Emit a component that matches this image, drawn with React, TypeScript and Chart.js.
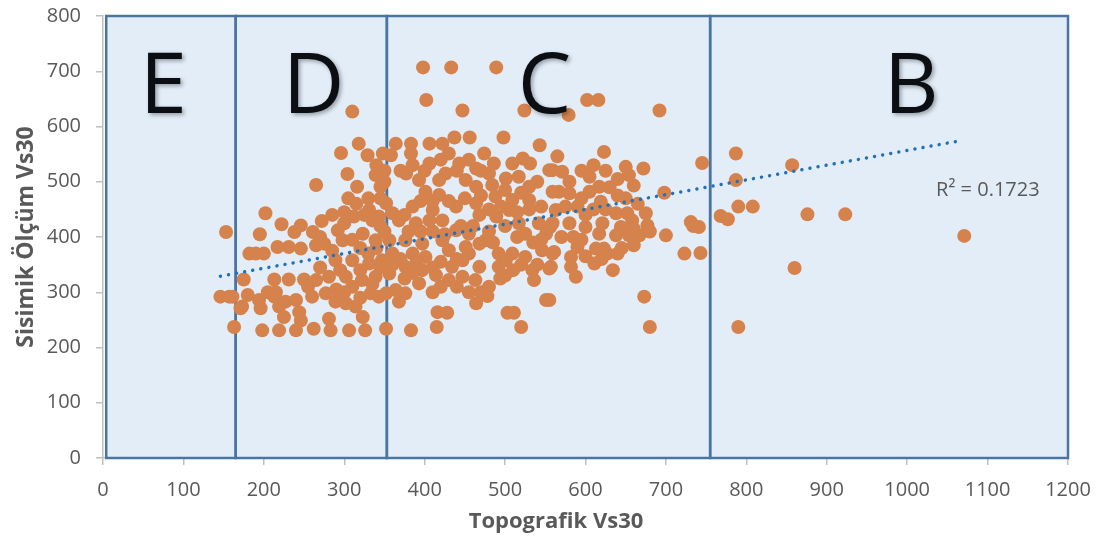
import React, { useEffect, useRef } from 'react';
import { Chart, registerables } from 'chart.js';

Chart.register(...registerables);

const FONT = "'Open Sans', 'DejaVu Sans', sans-serif";
const TEXT_GRAY = '#595959';

const xTickValues = [0, 100, 200, 300, 400, 500, 600, 700, 800, 900, 1000, 1100, 1200];
const yTickValues = [0, 100, 200, 300, 400, 500, 600, 700, 800];

const zoneNames = ['E', 'D', 'C', 'B'];
const zoneEdges = [4, 165, 353, 755, 1200];
const zoneLetterX = [75, 262, 549, 1005];
const zoneLetterBaseY = 624;

const trendX = [146, 1069];
const trendY = [329, 575];
const r2Text = 'R² = 0.1723';
const r2X = 1036;
const r2Y = 474;

const xAxisTitle = 'Topografik Vs30';
const yAxisTitle = 'Sisimik Ölçüm Vs30';

const zoneEPoints = [
  [153, 409], [146, 292], [161, 292], [157, 292], [163, 237],
];

const zoneDPoints = [
  [171, 271], [173, 274], [175, 323], [180, 295], [182, 370], [190, 370], [194, 286], [195, 405],
  [196, 271], [198, 231], [200, 370], [202, 443], [213, 292], [213, 323], [217, 382], [219, 274],
  [219, 231], [222, 423], [225, 255], [227, 283], [231, 382], [231, 323], [238, 409], [240, 286],
  [240, 231], [244, 264], [246, 421], [246, 379], [246, 249], [250, 323], [260, 292], [261, 409],
  [262, 234], [265, 494], [265, 385], [265, 322], [272, 429], [275, 388], [277, 298], [281, 328],
  [281, 252], [283, 231], [289, 358], [289, 283], [292, 412], [296, 552], [298, 394], [300, 425],
  [302, 328], [302, 280], [304, 514], [306, 231], [310, 627], [310, 358], [312, 437], [314, 274],
  [316, 491], [318, 569], [322, 322], [323, 406], [323, 255], [326, 231], [329, 548], [331, 449],
  [331, 352], [333, 298], [339, 512], [339, 394], [339, 328], [343, 437], [343, 292], [345, 491],
  [347, 358], [348, 551], [352, 234], [352, 461], [352, 298],
  [300, 300], [310, 310], [320, 340], [330, 370], [340, 380], [350, 410], [345, 420], [335, 430],
  [325, 440], [315, 460], [305, 470], [330, 470], [345, 470], [350, 500], [340, 530], [350, 520],
  [300, 445], [285, 440], [270, 400], [285, 375], [270, 345], [215, 300], [205, 300], [255, 310],
  [290, 305], [320, 290], [335, 315], [345, 345], [320, 380], [310, 395], [295, 340],
];

const zoneCPoints = [
  [698, 480], [731, 427], [734, 420], [723, 370], [700, 403], [673, 292], [680, 237], [623, 554],
  [650, 527], [672, 524], [660, 493], [654, 512], [565, 546], [571, 518], [559, 521], [567, 482],
  [580, 479], [605, 509], [617, 491], [605, 482], [619, 464], [563, 449], [580, 425], [556, 418],
  [600, 418], [638, 443], [652, 443], [675, 443], [677, 421], [658, 430], [644, 418], [621, 425],
  [617, 406], [638, 403], [654, 403], [667, 403], [623, 379], [613, 379], [627, 370], [611, 352],
  [634, 340], [590, 382], [582, 364], [582, 346], [588, 328], [561, 373], [557, 346], [555, 286],
  [745, 534], [741, 418], [743, 371],
  [398, 707], [433, 707], [489, 707], [402, 648], [447, 629], [524, 629], [579, 621], [602, 648],
  [616, 648], [692, 629], [543, 566], [498, 580], [456, 580], [437, 580],
  [383, 231], [415, 237], [416, 264], [428, 263], [464, 280], [478, 293], [503, 263], [511, 263],
  [520, 237], [551, 286], [364, 569], [383, 569], [406, 569], [422, 569], [474, 551], [486, 533],
  [509, 533], [522, 542], [531, 533], [555, 521], [358, 548], [383, 551], [377, 515], [406, 533],
  [430, 551], [443, 533], [464, 524], [426, 515], [393, 503], [418, 503], [451, 503], [464, 491],
  [401, 482], [418, 476], [484, 494], [501, 506], [517, 509], [530, 491], [559, 482], [488, 473],
  [509, 467], [530, 467], [360, 443], [385, 455], [410, 449], [439, 455], [464, 461], [468, 440],
  [489, 437], [505, 449], [517, 425], [542, 425], [559, 425], [525, 406], [551, 406], [368, 430],
  [389, 425], [406, 430], [422, 430], [439, 412], [455, 406], [476, 394], [356, 394], [376, 394],
  [397, 388], [422, 394], [360, 370], [385, 370], [401, 364], [430, 376], [451, 382], [468, 388],
  [492, 370], [509, 370], [525, 364], [546, 376], [559, 370], [555, 343], [492, 346], [501, 358],
  [534, 340], [536, 322], [494, 325], [468, 346], [463, 322], [447, 358], [434, 346], [414, 331],
  [430, 322], [447, 328], [393, 316], [397, 340], [376, 346], [356, 334], [364, 304], [376, 298],
  [368, 283],
  [370, 520], [385, 530], [400, 520], [420, 540], [440, 520], [455, 540], [470, 520], [480, 515],
  [395, 465], [410, 465], [430, 465], [450, 470], [470, 475], [500, 485], [520, 480], [540, 500],
  [545, 455], [530, 450], [515, 445], [495, 455], [480, 450], [375, 440], [380, 410], [395, 410],
  [410, 410], [425, 405], [445, 420], [460, 420], [480, 410], [500, 420], [515, 400], [535, 390],
  [545, 395], [485, 390], [455, 370], [440, 360], [420, 355], [410, 345], [390, 355], [370, 360],
  [360, 350], [375, 325], [385, 335], [410, 300], [420, 310], [440, 310], [455, 300], [470, 300],
  [480, 310], [500, 330], [510, 340], [520, 350], [540, 350], [570, 400], [585, 400], [595, 395],
  [600, 440], [610, 450], [625, 450], [590, 455], [575, 455], [595, 470], [580, 500], [595, 520],
  [610, 530], [625, 520], [640, 505], [650, 470], [665, 460], [640, 475], [630, 490], [660, 415],
  [680, 410], [660, 385], [645, 380], [600, 365], [620, 360], [640, 370],
];

const zoneBPoints = [
  [787, 551], [787, 503], [857, 530], [790, 455], [808, 455], [768, 438], [777, 432], [876, 441],
  [923, 441], [1071, 402], [860, 344], [790, 237],
];

const zonePlugin = {
  id: 'zonesAndText',
  beforeDatasetsDraw(chart: any) {
    const { ctx } = chart;
    const xs = chart.scales.x;
    const ys = chart.scales.y;
    const top = ys.getPixelForValue(800);
    const bottom = ys.getPixelForValue(0);
    ctx.save();
    ctx.fillStyle = '#E3EDF8';
    for (let i = 0; i < zoneNames.length; i++) {
      const l = xs.getPixelForValue(zoneEdges[i]);
      const r = xs.getPixelForValue(zoneEdges[i + 1]);
      ctx.fillRect(l, top, r - l, bottom - top);
    }
    ctx.strokeStyle = '#4A74A2';
    ctx.lineWidth = 2.5;
    for (let i = 0; i < zoneNames.length; i++) {
      const l = xs.getPixelForValue(zoneEdges[i]);
      const r = xs.getPixelForValue(zoneEdges[i + 1]);
      ctx.strokeRect(l, top, r - l, bottom - top);
    }
    ctx.restore();
  },
  afterDatasetsDraw(chart: any) {
    const { ctx } = chart;
    const xs = chart.scales.x;
    const ys = chart.scales.y;
    ctx.save();
    ctx.font = `85px ${FONT}`;
    ctx.textAlign = 'center';
    ctx.textBaseline = 'alphabetic';
    ctx.fillStyle = '#0B0F14';
    ctx.shadowColor = 'rgba(0,0,0,0.35)';
    ctx.shadowBlur = 4;
    ctx.shadowOffsetX = 2;
    ctx.shadowOffsetY = 2;
    for (let i = 0; i < zoneNames.length; i++) {
      ctx.fillText(zoneNames[i], xs.getPixelForValue(zoneLetterX[i]), ys.getPixelForValue(zoneLetterBaseY));
    }
    ctx.restore();

    ctx.save();
    ctx.font = `20px ${FONT}`;
    ctx.fillStyle = TEXT_GRAY;
    ctx.textAlign = 'left';
    ctx.textBaseline = 'alphabetic';
    ctx.fillText(r2Text, xs.getPixelForValue(r2X), ys.getPixelForValue(r2Y));
    ctx.restore();
  },
  afterDraw(chart: any) {
    const { ctx, chartArea } = chart;
    ctx.save();
    ctx.fillStyle = TEXT_GRAY;
    ctx.font = `bold 22px ${FONT}`;
    ctx.textAlign = 'center';
    ctx.textBaseline = 'alphabetic';
    ctx.fillText(xAxisTitle, 556, 528);
    ctx.translate(33, (chartArea.top + chartArea.bottom) / 2);
    ctx.rotate(-Math.PI / 2);
    ctx.font = `bold 23px ${FONT}`;
    ctx.fillText(yAxisTitle, 0, 0);
    ctx.restore();
  },
};

const zeroPadding = (s: any) => {
  s.paddingTop = 0;
  s.paddingBottom = 0;
  s.paddingLeft = 0;
  s.paddingRight = 0;
};

export default function App() {
  const canvasRef = useRef<HTMLCanvasElement | null>(null);

  useEffect(() => {
    if (!canvasRef.current) return;
    const allPoints = [...zoneEPoints, ...zoneDPoints, ...zoneCPoints, ...zoneBPoints];
    const chart = new Chart(canvasRef.current, {
      type: 'scatter',
      data: {
        datasets: [
          {
            type: 'line',
            data: trendX.map((x, i) => ({ x, y: trendY[i] })),
            borderColor: '#2172BA',
            borderWidth: 3.5,
            borderDash: [0.01, 8.2],
            borderCapStyle: 'round',
            pointRadius: 0,
            fill: false,
            showLine: true,
            order: 1,
          } as any,
          {
            type: 'scatter',
            data: allPoints.map(([x, y]) => ({ x, y })),
            backgroundColor: '#D5824C',
            borderWidth: 0,
            pointRadius: 7,
            pointHoverRadius: 7,
            order: 2,
          } as any,
        ],
      },
      options: {
        animation: false,
        responsive: true,
        maintainAspectRatio: false,
        layout: { padding: { left: 0, right: 31, top: 16, bottom: 0 } },
        plugins: { legend: { display: false }, tooltip: { enabled: false } },
        scales: {
          x: {
            type: 'linear',
            min: 0,
            max: 1200,
            afterBuildTicks: (s: any) => { s.ticks = xTickValues.map((v) => ({ value: v })); },
            afterFit: (s: any) => { s.height = 79; zeroPadding(s); },
            grid: { display: true, drawOnChartArea: false, drawTicks: true, tickLength: 7, color: '#BFBFBF', lineWidth: 1.5 },
            border: { display: true, color: '#BFBFBF', width: 1.5 },
            ticks: {
              color: TEXT_GRAY, font: { family: FONT, size: 20 }, padding: 13, maxRotation: 0, autoSkip: false,
              callback: (v: any) => String(v),
            },
          },
          y: {
            type: 'linear',
            min: 0,
            max: 800,
            afterBuildTicks: (s: any) => { s.ticks = yTickValues.map((v) => ({ value: v })); },
            afterFit: (s: any) => { s.width = 103; zeroPadding(s); },
            grid: { display: true, drawOnChartArea: false, drawTicks: true, tickLength: 7, color: '#BFBFBF', lineWidth: 1.5 },
            border: { display: true, color: '#BFBFBF', width: 1.5 },
            ticks: {
              color: TEXT_GRAY, font: { family: FONT, size: 20 }, padding: 15, autoSkip: false,
              callback: (v: any) => String(v),
            },
          },
        },
      } as any,
      plugins: [zonePlugin],
    });
    return () => chart.destroy();
  }, []);

  return (
    <div style={{ position: 'absolute', left: 0, top: 0, width: 1099, height: 537 }}>
      <canvas ref={canvasRef} />
    </div>
  );
}
